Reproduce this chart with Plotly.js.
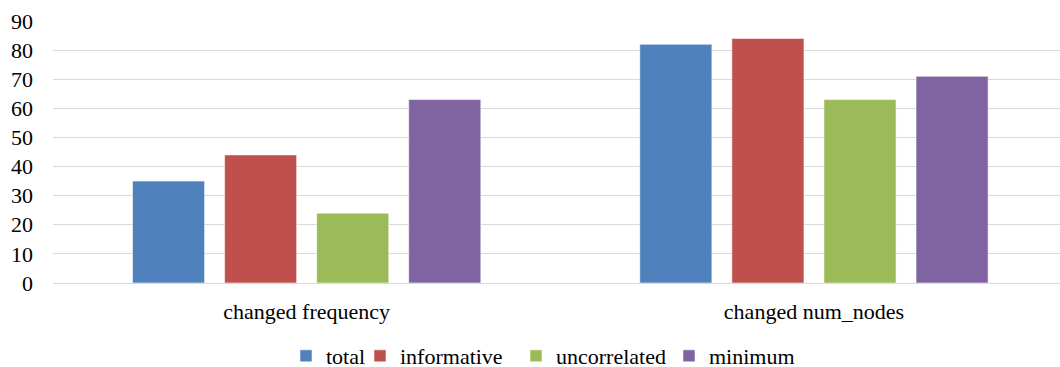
<!DOCTYPE html>
<html>
<head>
<meta charset="utf-8">
<script src="https://cdn.plot.ly/plotly-3.0.1.min.js"></script>
<style>
  html, body { margin: 0; padding: 0; background: #fff; }
  #chart { width: 1060px; height: 367px; }
</style>
</head>
<body>
<div id="chart"></div>
<script>
// Categories along the x axis
const categories = ['changed frequency', 'changed num_nodes'];

// One series per measure
const seriesNames = ['total', 'informative', 'uncorrelated', 'minimum'];
const totalValues = [35, 82];
const informativeValues = [44, 84];
const uncorrelatedValues = [24, 63];
const minimumValues = [63, 71];

const yTicks = [0, 10, 20, 30, 40, 50, 60, 70, 80, 90];

const colors = ['#4F81BD', '#C0504D', '#9BBB59', '#8064A2'];
const allValues = [totalValues, informativeValues, uncorrelatedValues, minimumValues];

// Each series gets its own legend box so the entries sit in one tight row
const legendIds = ['legend', 'legend2', 'legend3', 'legend4'];
const legendLeft = [286, 360, 516, 669];

const serif = 'Liberation Serif';
const textFont = { family: serif, size: 22, color: '#000' };

const traces = seriesNames.map((name, i) => ({
  type: 'bar',
  name: name,
  x: categories,
  y: allValues[i],
  legend: legendIds[i],
  marker: {
    color: colors[i],
    line: { color: 'rgba(255,255,255,0.55)', width: 1 }
  },
  hoverinfo: 'x+y+name'
}));

const layout = {
  width: 1060,
  height: 367,
  margin: { l: 53, r: 0, t: 20.7, b: 84.3 },
  paper_bgcolor: '#fff',
  plot_bgcolor: '#fff',
  font: textFont,
  barmode: 'group',
  bargap: 0.274,
  bargroupgap: 0.217,
  showlegend: true,
  xaxis: {
    type: 'category',
    range: [-0.5, 1.485],
    showgrid: false,
    zeroline: false,
    showline: false,
    ticks: '',
    ticklabelstandoff: 13,
    tickfont: textFont
  },
  yaxis: {
    range: [0, 90],
    tickvals: yTicks,
    ticktext: yTicks.map(String),
    showgrid: true,
    gridcolor: '#D9D9D9',
    gridwidth: 1,
    zeroline: true,
    zerolinecolor: '#D9D9D9',
    zerolinewidth: 1,
    showline: false,
    ticks: '',
    ticklabelstandoff: 19,
    tickfont: textFont
  }
};

legendIds.forEach((id, i) => {
  layout[id] = {
    orientation: 'h',
    xref: 'container',
    yref: 'container',
    x: legendLeft[i] / 1060,
    xanchor: 'left',
    y: 11 / 367,
    yanchor: 'middle',
    borderwidth: 0,
    bgcolor: 'rgba(0,0,0,0)',
    font: textFont,
    itemwidth: 30
  };
});

Plotly.newPlot('chart', traces, layout, { displayModeBar: false, staticPlot: true });
</script>
</body>
</html>
